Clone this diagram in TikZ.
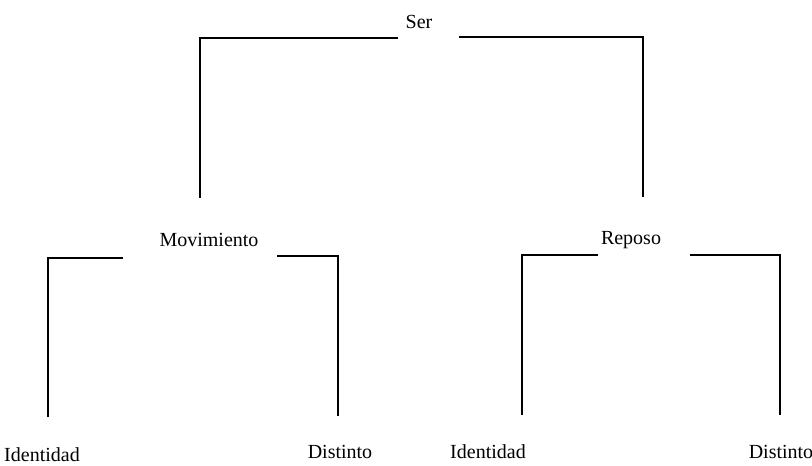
\documentclass[tikz,border=0pt]{standalone}
\usepackage{fontspec}
\setmainfont{Liberation Serif}
\usepackage{tikz}
\usetikzlibrary{positioning, calc}

\begin{document}
\begin{tikzpicture}[x=0.5pt, y=-0.5pt,
    concept/.style={inner sep=2pt, font=\normalsize},
    branch/.style={line width=0.9pt, black}]
    % Canvas
    \useasboundingbox (0,0) rectangle (812,465);

    % The Root
    \node[concept] (ser) at (419,22) {Ser};

    % The Second Level
    \node[concept] (mov) at (209,240) {Movimiento};
    \node[concept] (rep) at (631,240) {Reposo};

    % The Leaves
    \node[concept] (movId) at (42,455) {Identidad};
    \node[concept] (movDis) at (340,452) {Distinto};
    \node[concept] (repId) at (488,452) {Identidad};
    \node[concept] (repDis) at (781,452) {Distinto};

    % Branch ends
    \coordinate (serL) at (398,38);
    \coordinate (serR) at (459,37);
    \coordinate (movTop) at (200,198);
    \coordinate (repTop) at (643,197);
    \coordinate (movL) at (123,258);
    \coordinate (movR) at (277,256);
    \coordinate (movIdTop) at (48,417);
    \coordinate (movDisTop) at (338,416);
    \coordinate (repL) at (598,255);
    \coordinate (repR) at (690,255);
    \coordinate (repIdTop) at (522,415);
    \coordinate (repDisTop) at (780,415);

    % Branches
    \draw[branch] (serL) -| (movTop);
    \draw[branch] (serR) -| (repTop);
    \draw[branch] (movL) -| (movIdTop);
    \draw[branch] (movR) -| (movDisTop);
    \draw[branch] (repL) -| (repIdTop);
    \draw[branch] (repR) -| (repDisTop);
\end{tikzpicture}
\end{document}
